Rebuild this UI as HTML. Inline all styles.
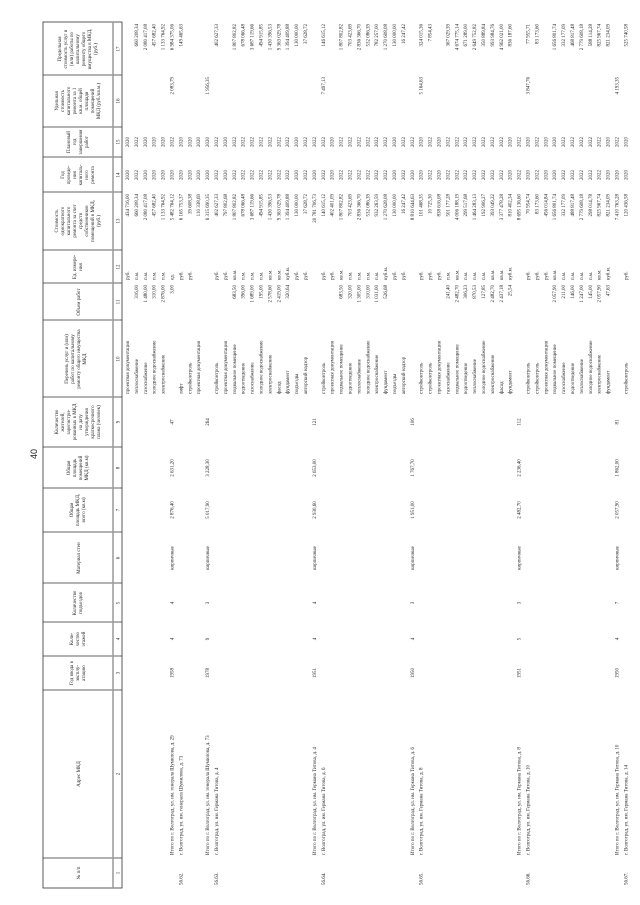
<!DOCTYPE html>
<html><head><meta charset="utf-8"><style>
html,body{margin:0;padding:0;background:#fff;}
svg{display:block;}
text{font-family:"Liberation Serif",serif;font-size:5px;fill:#222;}
.h{text-anchor:middle;}
.e{text-anchor:end;}
.m{text-anchor:middle;}
</style></head><body>
<svg width="640" height="905" viewBox="0 0 640 905" xmlns="http://www.w3.org/2000/svg">
<rect width="640" height="905" fill="#fff"/>
<g transform="translate(0,905) rotate(-90)">
<text x="451" y="37" style="font-family:'Liberation Sans',sans-serif;font-size:9px;text-anchor:middle">40</text>
<!-- header frame -->
<g stroke="#333" stroke-width="0.8" fill="none">
<rect x="17" y="43" width="866" height="79"/>
<line x1="47" y1="43" x2="47" y2="122"/><line x1="215" y1="43" x2="215" y2="122"/>
<line x1="249" y1="43" x2="249" y2="122"/><line x1="283" y1="43" x2="283" y2="122"/>
<line x1="322" y1="43" x2="322" y2="122"/><line x1="373" y1="43" x2="373" y2="122"/>
<line x1="417" y1="43" x2="417" y2="122"/><line x1="458" y1="43" x2="458" y2="122"/>
<line x1="508" y1="43" x2="508" y2="122"/><line x1="585" y1="43" x2="585" y2="122"/>
<line x1="622" y1="43" x2="622" y2="122"/><line x1="655" y1="43" x2="655" y2="122"/>
<line x1="713" y1="43" x2="713" y2="122"/><line x1="748" y1="43" x2="748" y2="122"/>
<line x1="778" y1="43" x2="778" y2="122"/><line x1="830" y1="43" x2="830" y2="122"/>
</g>
<line x1="17" y1="113" x2="883" y2="113" stroke="#999" stroke-width="1.5"/>
<!-- header texts -->
<g class="h">
<text x="32" y="80" class="h">№ п/п</text>
<text x="131" y="80" class="h">Адрес МКД</text>
<text x="232" y="73" class="h"><tspan x="232">Год ввода в</tspan><tspan x="232" dy="6">эксплу-</tspan><tspan x="232" dy="6">атацию</tspan></text>
<text x="266" y="73" class="h"><tspan x="266">Коли-</tspan><tspan x="266" dy="6">чество</tspan><tspan x="266" dy="6">этажей</tspan></text>
<text x="302" y="76" class="h"><tspan x="302">Количество</tspan><tspan x="302" dy="6">подъездов</tspan></text>
<text x="347" y="80" class="h">Материал стен</text>
<text x="395" y="73" class="h"><tspan x="395">Общая</tspan><tspan x="395" dy="6">площадь МКД,</tspan><tspan x="395" dy="6">всего (кв.м)</tspan></text>
<text x="437" y="70" class="h"><tspan x="437">Общая</tspan><tspan x="437" dy="6">площадь</tspan><tspan x="437" dy="6">помещений</tspan><tspan x="437" dy="6">МКД (кв.м)</tspan></text>
<text x="483" y="58" class="h"><tspan x="483">Количество</tspan><tspan x="483" dy="6">жителей,</tspan><tspan x="483" dy="6">зарегистри-</tspan><tspan x="483" dy="6">рованных в МКД</tspan><tspan x="483" dy="6">на дату</tspan><tspan x="483" dy="6">утверждения</tspan><tspan x="483" dy="6">краткосрочного</tspan><tspan x="483" dy="6">плана (человек)</tspan></text>
<text x="546" y="68" class="h"><tspan x="546">Перечень услуг и (или)</tspan><tspan x="546" dy="6">работ по капитальному</tspan><tspan x="546" dy="6">ремонту общего имущества</tspan><tspan x="546" dy="6">МКД</tspan></text>
<text x="603" y="80" class="h">Объем работ</text>
<text x="638" y="76" class="h"><tspan x="638">Ед. измере-</tspan><tspan x="638" dy="6">ния</tspan></text>
<text x="684" y="58" class="h"><tspan x="684">Стоимость</tspan><tspan x="684" dy="6">однократного</tspan><tspan x="684" dy="6">капитального</tspan><tspan x="684" dy="6">ремонта за счет</tspan><tspan x="684" dy="6">средств</tspan><tspan x="684" dy="6">собственников</tspan><tspan x="684" dy="6">помещений в МКД,</tspan><tspan x="684" dy="6">(руб.)</tspan></text>
<text x="730" y="64" class="h"><tspan x="730">Год</tspan><tspan x="730" dy="6">проведе-</tspan><tspan x="730" dy="6">ния</tspan><tspan x="730" dy="6">капиталь-</tspan><tspan x="730" dy="6">ного</tspan><tspan x="730" dy="6">ремонта</tspan></text>
<text x="763" y="70" class="h"><tspan x="763">Плановый</tspan><tspan x="763" dy="6">год</tspan><tspan x="763" dy="6">завершения</tspan><tspan x="763" dy="6">работ</tspan></text>
<text x="804" y="58" class="h"><tspan x="804">Удельная</tspan><tspan x="804" dy="6">стоимость</tspan><tspan x="804" dy="6">капитального</tspan><tspan x="804" dy="6">ремонта за 1</tspan><tspan x="804" dy="6">кв.м. общей</tspan><tspan x="804" dy="6">площади</tspan><tspan x="804" dy="6">помещений</tspan><tspan x="804" dy="6">МКД (руб./кв.м.)</tspan></text>
<text x="856" y="61" class="h"><tspan x="856">Предельная</tspan><tspan x="856" dy="6">стоимость услуг и</tspan><tspan x="856" dy="6">(или) работы по</tspan><tspan x="856" dy="6">капитальному</tspan><tspan x="856" dy="6">ремонту общего</tspan><tspan x="856" dy="6">имущества в МКД,</tspan><tspan x="856" dy="6">(руб.)</tspan></text>
</g>
<g class="h">
<text x="32" y="119.5" class="h">1</text><text x="131" y="119.5" class="h">2</text><text x="232" y="119.5" class="h">3</text><text x="266" y="119.5" class="h">4</text><text x="302" y="119.5" class="h">5</text><text x="347" y="119.5" class="h">6</text><text x="395" y="119.5" class="h">7</text><text x="437" y="119.5" class="h">8</text><text x="483" y="119.5" class="h">9</text><text x="546" y="119.5" class="h">10</text><text x="603" y="119.5" class="h">11</text><text x="638" y="119.5" class="h">12</text><text x="684" y="119.5" class="h">13</text><text x="730" y="119.5" class="h">14</text><text x="763" y="119.5" class="h">15</text><text x="804" y="119.5" class="h">16</text><text x="856" y="119.5" class="h">17</text>
</g>

<!-- data lines -->
<g transform="translate(0,129)"><text x="511">проектная документация</text><text x="625">руб.</text><text x="711" class="e">434 716,00</text><text x="730" class="m">2020</text><text x="763" class="m">2020</text></g>
<g transform="translate(0,137.9)"><text x="511">теплоснабжение</text><text x="620" class="e">316,00</text><text x="625">п.м.</text><text x="711" class="e">660 208,34</text><text x="730" class="m">2022</text><text x="763" class="m">2022</text><text x="881" class="e">660 208,34</text></g>
<g transform="translate(0,146.8)"><text x="511">газоснабжение</text><text x="620" class="e">1 480,00</text><text x="625">п.м.</text><text x="711" class="e">2 080 417,08</text><text x="730" class="m">2020</text><text x="763" class="m">2020</text><text x="881" class="e">2 080 417,08</text></g>
<g transform="translate(0,155.7)"><text x="511">холодное водоснабжение</text><text x="620" class="e">310,00</text><text x="625">п.м.</text><text x="711" class="e">457 682,40</text><text x="730" class="m">2020</text><text x="763" class="m">2020</text><text x="881" class="e">457 682,40</text></g>
<g transform="translate(0,164.6)"><text x="511">электроснабжение</text><text x="620" class="e">2 876,00</text><text x="625">п.м.</text><text x="711" class="e">1 133 764,92</text><text x="730" class="m">2020</text><text x="763" class="m">2020</text><text x="881" class="e">1 133 764,92</text></g>
<g transform="translate(0,173.5)"><text x="50">Итого по г. Волгоград, ул. им. генерала Шумилова, д. 29</text><text x="232" class="m">1958</text><text x="266" class="m">4</text><text x="302" class="m">4</text><text x="347" class="m">кирпичные</text><text x="395" class="m">2 876,40</text><text x="437" class="m">2 631,20</text><text x="483" class="m">47</text><text x="620" class="e">3,00</text><text x="625">ед.</text><text x="711" class="e">5 482 764,12</text><text x="730" class="m">2020</text><text x="763" class="m">2022</text><text x="828" class="e">2 083,79</text><text x="881" class="e">6 984 375,06</text></g>
<g transform="translate(0,182.4)"><text x="20">56.62.</text><text x="50">г. Волгоград, ул. им. генерала Шумилова, д. 73</text><text x="511">лифт</text><text x="625">руб.</text><text x="711" class="e">6 165 753,37</text><text x="730" class="m">2020</text><text x="763" class="m">2020</text><text x="881" class="e">149 465,63</text></g>
<g transform="translate(0,191.3)"><text x="511">стройконтроль</text><text x="625">руб.</text><text x="711" class="e">39 608,38</text><text x="730" class="m">2020</text><text x="763" class="m">2020</text></g>
<g transform="translate(0,200.2)"><text x="511">проектная документация</text><text x="711" class="e">110 338,69</text><text x="730" class="m">2020</text><text x="763" class="m">2020</text></g>
<g transform="translate(0,209.1)"><text x="50">Итого по г. Волгоград, ул. им. генерала Шумилова, д. 73</text><text x="232" class="m">1978</text><text x="266" class="m">9</text><text x="302" class="m">3</text><text x="347" class="m">кирпичные</text><text x="395" class="m">5 017,90</text><text x="437" class="m">3 228,30</text><text x="483" class="m">264</text><text x="711" class="e">6 315 690,35</text><text x="730" class="m">2020</text><text x="763" class="m">2020</text><text x="828" class="e">1 956,35</text></g>
<g transform="translate(0,218)"><text x="20">56.63.</text><text x="50">г. Волгоград, ул. им. Германа Титова, д. 4</text><text x="511">стройконтроль</text><text x="625">руб.</text><text x="711" class="e">402 627,33</text><text x="730" class="m">2022</text><text x="763" class="m">2022</text><text x="881" class="e">402 627,33</text></g>
<g transform="translate(0,226.9)"><text x="511">проектная документация</text><text x="625">руб.</text><text x="711" class="e">797 802,68</text><text x="730" class="m">2020</text><text x="763" class="m">2020</text></g>
<g transform="translate(0,235.8)"><text x="511">подвальное помещение</text><text x="620" class="e">683,50</text><text x="625">кв.м.</text><text x="711" class="e">1 807 802,82</text><text x="730" class="m">2022</text><text x="763" class="m">2022</text><text x="881" class="e">1 807 802,82</text></g>
<g transform="translate(0,244.7)"><text x="511">водоотведение</text><text x="620" class="e">396,00</text><text x="625">п.м.</text><text x="711" class="e">678 066,48</text><text x="730" class="m">2022</text><text x="763" class="m">2022</text><text x="881" class="e">678 066,48</text></g>
<g transform="translate(0,253.6)"><text x="511">газоснабжение</text><text x="620" class="e">1 689,00</text><text x="625">п.м.</text><text x="711" class="e">3 687 119,66</text><text x="730" class="m">2022</text><text x="763" class="m">2022</text><text x="881" class="e">3 687 119,66</text></g>
<g transform="translate(0,262.5)"><text x="511">холодное водоснабжение</text><text x="620" class="e">195,00</text><text x="625">п.м.</text><text x="711" class="e">494 915,85</text><text x="730" class="m">2022</text><text x="763" class="m">2022</text><text x="881" class="e">494 915,85</text></g>
<g transform="translate(0,271.4)"><text x="511">электроснабжение</text><text x="620" class="e">2 578,60</text><text x="625">кв.м.</text><text x="711" class="e">1 430 396,53</text><text x="730" class="m">2022</text><text x="763" class="m">2022</text><text x="881" class="e">1 430 396,53</text></g>
<g transform="translate(0,280.3)"><text x="511">фасад</text><text x="620" class="e">2 419,00</text><text x="625">кв.м.</text><text x="711" class="e">9 363 029,78</text><text x="730" class="m">2022</text><text x="763" class="m">2022</text><text x="881" class="e">9 363 029,78</text></g>
<g transform="translate(0,289.2)"><text x="511">фундамент</text><text x="620" class="e">320,64</text><text x="625">куб.м.</text><text x="711" class="e">1 394 409,88</text><text x="730" class="m">2022</text><text x="763" class="m">2022</text><text x="881" class="e">1 394 409,88</text></g>
<g transform="translate(0,298.1)"><text x="511">подъезды</text><text x="625">руб.</text><text x="711" class="e">130 000,00</text><text x="730" class="m">2020</text><text x="763" class="m">2020</text><text x="881" class="e">130 000,00</text></g>
<g transform="translate(0,307)"><text x="511">авторский надзор</text><text x="625">руб.</text><text x="711" class="e">37 628,72</text><text x="730" class="m">2022</text><text x="763" class="m">2022</text><text x="881" class="e">37 628,72</text></g>
<g transform="translate(0,315.9)"><text x="50">Итого по г. Волгоград, ул. им. Германа Титова, д. 4</text><text x="232" class="m">1951</text><text x="266" class="m">4</text><text x="302" class="m">4</text><text x="347" class="m">кирпичные</text><text x="395" class="m">2 930,60</text><text x="437" class="m">2 653,00</text><text x="483" class="m">121</text><text x="711" class="e">20 781 706,73</text><text x="730" class="m">2020</text><text x="763" class="m">2022</text></g>
<g transform="translate(0,324.8)"><text x="20">56.64.</text><text x="50">г. Волгоград, ул. им. Германа Титова, д. 6</text><text x="511">стройконтроль</text><text x="625">руб.</text><text x="711" class="e">140 615,12</text><text x="730" class="m">2022</text><text x="763" class="m">2022</text><text x="828" class="e">7 497,13</text><text x="881" class="e">146 615,12</text></g>
<g transform="translate(0,333.7)"><text x="511">проектная документация</text><text x="625">руб.</text><text x="711" class="e">402 401,09</text><text x="730" class="m">2020</text><text x="763" class="m">2020</text></g>
<g transform="translate(0,342.6)"><text x="511">подвальное помещение</text><text x="620" class="e">683,50</text><text x="625">кв.м.</text><text x="711" class="e">1 807 802,82</text><text x="730" class="m">2022</text><text x="763" class="m">2022</text><text x="881" class="e">1 807 802,82</text></g>
<g transform="translate(0,351.5)"><text x="511">водоотведение</text><text x="620" class="e">320,00</text><text x="625">п.м.</text><text x="711" class="e">703 423,69</text><text x="730" class="m">2022</text><text x="763" class="m">2022</text><text x="881" class="e">703 423,69</text></g>
<g transform="translate(0,360.4)"><text x="511">теплоснабжение</text><text x="620" class="e">1 305,00</text><text x="625">п.м.</text><text x="711" class="e">2 836 366,70</text><text x="730" class="m">2022</text><text x="763" class="m">2022</text><text x="881" class="e">2 836 366,70</text></g>
<g transform="translate(0,369.3)"><text x="511">холодное водоснабжение</text><text x="620" class="e">310,00</text><text x="625">п.м.</text><text x="711" class="e">532 086,39</text><text x="730" class="m">2022</text><text x="763" class="m">2022</text><text x="881" class="e">532 086,39</text></g>
<g transform="translate(0,378.2)"><text x="511">электроснабжение</text><text x="620" class="e">1 031,00</text><text x="625">п.м.</text><text x="711" class="e">932 263,59</text><text x="730" class="m">2022</text><text x="763" class="m">2022</text><text x="881" class="e">782 257,00</text></g>
<g transform="translate(0,387.1)"><text x="511">фундамент</text><text x="620" class="e">526,68</text><text x="625">куб.м.</text><text x="711" class="e">1 270 628,08</text><text x="730" class="m">2022</text><text x="763" class="m">2022</text><text x="881" class="e">1 270 608,08</text></g>
<g transform="translate(0,396)"><text x="511">подъезды</text><text x="625">руб.</text><text x="711" class="e">130 000,00</text><text x="730" class="m">2020</text><text x="763" class="m">2020</text><text x="881" class="e">130 000,00</text></g>
<g transform="translate(0,404.9)"><text x="511">авторский надзор</text><text x="625">руб.</text><text x="711" class="e">16 247,42</text><text x="730" class="m">2022</text><text x="763" class="m">2022</text><text x="881" class="e">16 247,42</text></g>
<g transform="translate(0,413.8)"><text x="50">Итого по г. Волгоград, ул. им. Германа Титова, д. 6</text><text x="232" class="m">1950</text><text x="266" class="m">4</text><text x="302" class="m">3</text><text x="347" class="m">кирпичные</text><text x="395" class="m">1 951,00</text><text x="437" class="m">1 767,70</text><text x="483" class="m">106</text><text x="711" class="e">8 810 644,63</text><text x="730" class="m">2020</text><text x="763" class="m">2022</text></g>
<g transform="translate(0,422.7)"><text x="20">56.65.</text><text x="50">г. Волгоград, ул. им. Германа Титова, д. 8</text><text x="511">стройконтроль</text><text x="625">руб.</text><text x="711" class="e">101 468,35</text><text x="730" class="m">2020</text><text x="763" class="m">2020</text><text x="828" class="e">5 164,63</text><text x="881" class="e">324 015,36</text></g>
<g transform="translate(0,431.6)"><text x="511">стройконтроль</text><text x="625">руб.</text><text x="711" class="e">10 725,30</text><text x="730" class="m">2022</text><text x="763" class="m">2022</text><text x="881" class="e">7 854,43</text></g>
<g transform="translate(0,440.5)"><text x="511">проектная документация</text><text x="625">руб.</text><text x="711" class="e">838 616,08</text><text x="730" class="m">2020</text><text x="763" class="m">2020</text></g>
<g transform="translate(0,449.4)"><text x="511">газоснабжение</text><text x="620" class="e">241,40</text><text x="625">п.м.</text><text x="711" class="e">501 177,28</text><text x="730" class="m">2022</text><text x="763" class="m">2022</text><text x="881" class="e">367 029,39</text></g>
<g transform="translate(0,458.3)"><text x="511">подвальное помещение</text><text x="620" class="e">2 482,70</text><text x="625">кв.м.</text><text x="711" class="e">4 006 188,19</text><text x="730" class="m">2022</text><text x="763" class="m">2022</text><text x="881" class="e">4 674 775,14</text></g>
<g transform="translate(0,467.2)"><text x="511">водоотведение</text><text x="620" class="e">306,23</text><text x="625">п.м.</text><text x="711" class="e">299 517,68</text><text x="730" class="m">2022</text><text x="763" class="m">2022</text><text x="881" class="e">671 289,00</text></g>
<g transform="translate(0,476.1)"><text x="511">теплоснабжение</text><text x="620" class="e">870,53</text><text x="625">п.м.</text><text x="711" class="e">1 464 283,13</text><text x="730" class="m">2022</text><text x="763" class="m">2022</text><text x="881" class="e">2 649 752,82</text></g>
<g transform="translate(0,485)"><text x="511">холодное водоснабжение</text><text x="620" class="e">127,85</text><text x="625">п.м.</text><text x="711" class="e">192 906,27</text><text x="730" class="m">2022</text><text x="763" class="m">2022</text><text x="881" class="e">350 889,84</text></g>
<g transform="translate(0,493.9)"><text x="511">электроснабжение</text><text x="620" class="e">2 482,70</text><text x="625">кв.м.</text><text x="711" class="e">393 049,22</text><text x="730" class="m">2022</text><text x="763" class="m">2022</text><text x="881" class="e">993 984,76</text></g>
<g transform="translate(0,502.8)"><text x="511">фасад</text><text x="620" class="e">2 437,18</text><text x="625">кв.м.</text><text x="711" class="e">3 377 478,28</text><text x="730" class="m">2022</text><text x="763" class="m">2022</text><text x="881" class="e">4 962 021,00</text></g>
<g transform="translate(0,511.7)"><text x="511">фундамент</text><text x="620" class="e">25,54</text><text x="625">куб.м.</text><text x="711" class="e">810 402,34</text><text x="730" class="m">2020</text><text x="763" class="m">2020</text><text x="881" class="e">836 187,60</text></g>
<g transform="translate(0,520.6)"><text x="50">Итого по г. Волгоград, ул. им. Германа Титова, д. 8</text><text x="232" class="m">1951</text><text x="266" class="m">5</text><text x="302" class="m">3</text><text x="347" class="m">кирпичные</text><text x="395" class="m">2 482,70</text><text x="437" class="m">2 236,40</text><text x="483" class="m">112</text><text x="711" class="e">8 695 136,60</text><text x="730" class="m">2022</text><text x="763" class="m">2022</text></g>
<g transform="translate(0,529.5)"><text x="20">56.66.</text><text x="50">г. Волгоград, ул. им. Германа Титова, д. 10</text><text x="511">стройконтроль</text><text x="625">руб.</text><text x="711" class="e">70 954,74</text><text x="730" class="m">2020</text><text x="763" class="m">2020</text><text x="828" class="e">3 847,76</text><text x="881" class="e">77 955,71</text></g>
<g transform="translate(0,538.4)"><text x="511">стройконтроль</text><text x="625">руб.</text><text x="711" class="e">83 173,60</text><text x="730" class="m">2022</text><text x="763" class="m">2022</text><text x="881" class="e">83 173,60</text></g>
<g transform="translate(0,547.3)"><text x="511">проектная документация</text><text x="625">руб.</text><text x="711" class="e">456 014,84</text><text x="730" class="m">2020</text><text x="763" class="m">2020</text></g>
<g transform="translate(0,556.2)"><text x="511">подвальное помещение</text><text x="620" class="e">2 057,90</text><text x="625">кв.м.</text><text x="711" class="e">1 656 801,74</text><text x="730" class="m">2020</text><text x="763" class="m">2020</text><text x="881" class="e">1 656 801,74</text></g>
<g transform="translate(0,565.1)"><text x="511">газоснабжение</text><text x="620" class="e">211,00</text><text x="625">п.м.</text><text x="711" class="e">332 177,09</text><text x="730" class="m">2022</text><text x="763" class="m">2022</text><text x="881" class="e">332 177,09</text></g>
<g transform="translate(0,574)"><text x="511">водоотведение</text><text x="620" class="e">146,00</text><text x="625">п.м.</text><text x="711" class="e">488 817,48</text><text x="730" class="m">2022</text><text x="763" class="m">2022</text><text x="881" class="e">468 817,48</text></g>
<g transform="translate(0,582.9)"><text x="511">теплоснабжение</text><text x="620" class="e">1 247,00</text><text x="625">п.м.</text><text x="711" class="e">2 779 608,18</text><text x="730" class="m">2022</text><text x="763" class="m">2022</text><text x="881" class="e">2 779 608,18</text></g>
<g transform="translate(0,591.8)"><text x="511">холодное водоснабжение</text><text x="620" class="e">145,00</text><text x="625">п.м.</text><text x="711" class="e">298 014,78</text><text x="730" class="m">2022</text><text x="763" class="m">2022</text><text x="881" class="e">588 114,28</text></g>
<g transform="translate(0,600.7)"><text x="511">электроснабжение</text><text x="620" class="e">2 057,90</text><text x="625">кв.м.</text><text x="711" class="e">825 967,74</text><text x="730" class="m">2022</text><text x="763" class="m">2022</text><text x="881" class="e">825 967,74</text></g>
<g transform="translate(0,609.6)"><text x="511">фундамент</text><text x="620" class="e">47,63</text><text x="625">куб.м.</text><text x="711" class="e">821 234,09</text><text x="730" class="m">2020</text><text x="763" class="m">2020</text><text x="881" class="e">821 234,09</text></g>
<g transform="translate(0,618.5)"><text x="50">Итого по г. Волгоград, ул. им. Германа Титова, д. 10</text><text x="232" class="m">1950</text><text x="266" class="m">4</text><text x="302" class="m">7</text><text x="347" class="m">кирпичные</text><text x="395" class="m">2 057,90</text><text x="437" class="m">1 862,00</text><text x="483" class="m">81</text><text x="711" class="e">7 410 763,28</text><text x="730" class="m">2020</text><text x="763" class="m">2022</text><text x="828" class="e">4 193,35</text></g>
<g transform="translate(0,627.4)"><text x="20">56.67.</text><text x="50">г. Волгоград, ул. им. Германа Титова, д. 14</text><text x="511">стройконтроль</text><text x="625">руб.</text><text x="711" class="e">120 436,58</text><text x="730" class="m">2020</text><text x="763" class="m">2020</text><text x="881" class="e">525 740,58</text></g>
</g>
</svg>
</body></html>
